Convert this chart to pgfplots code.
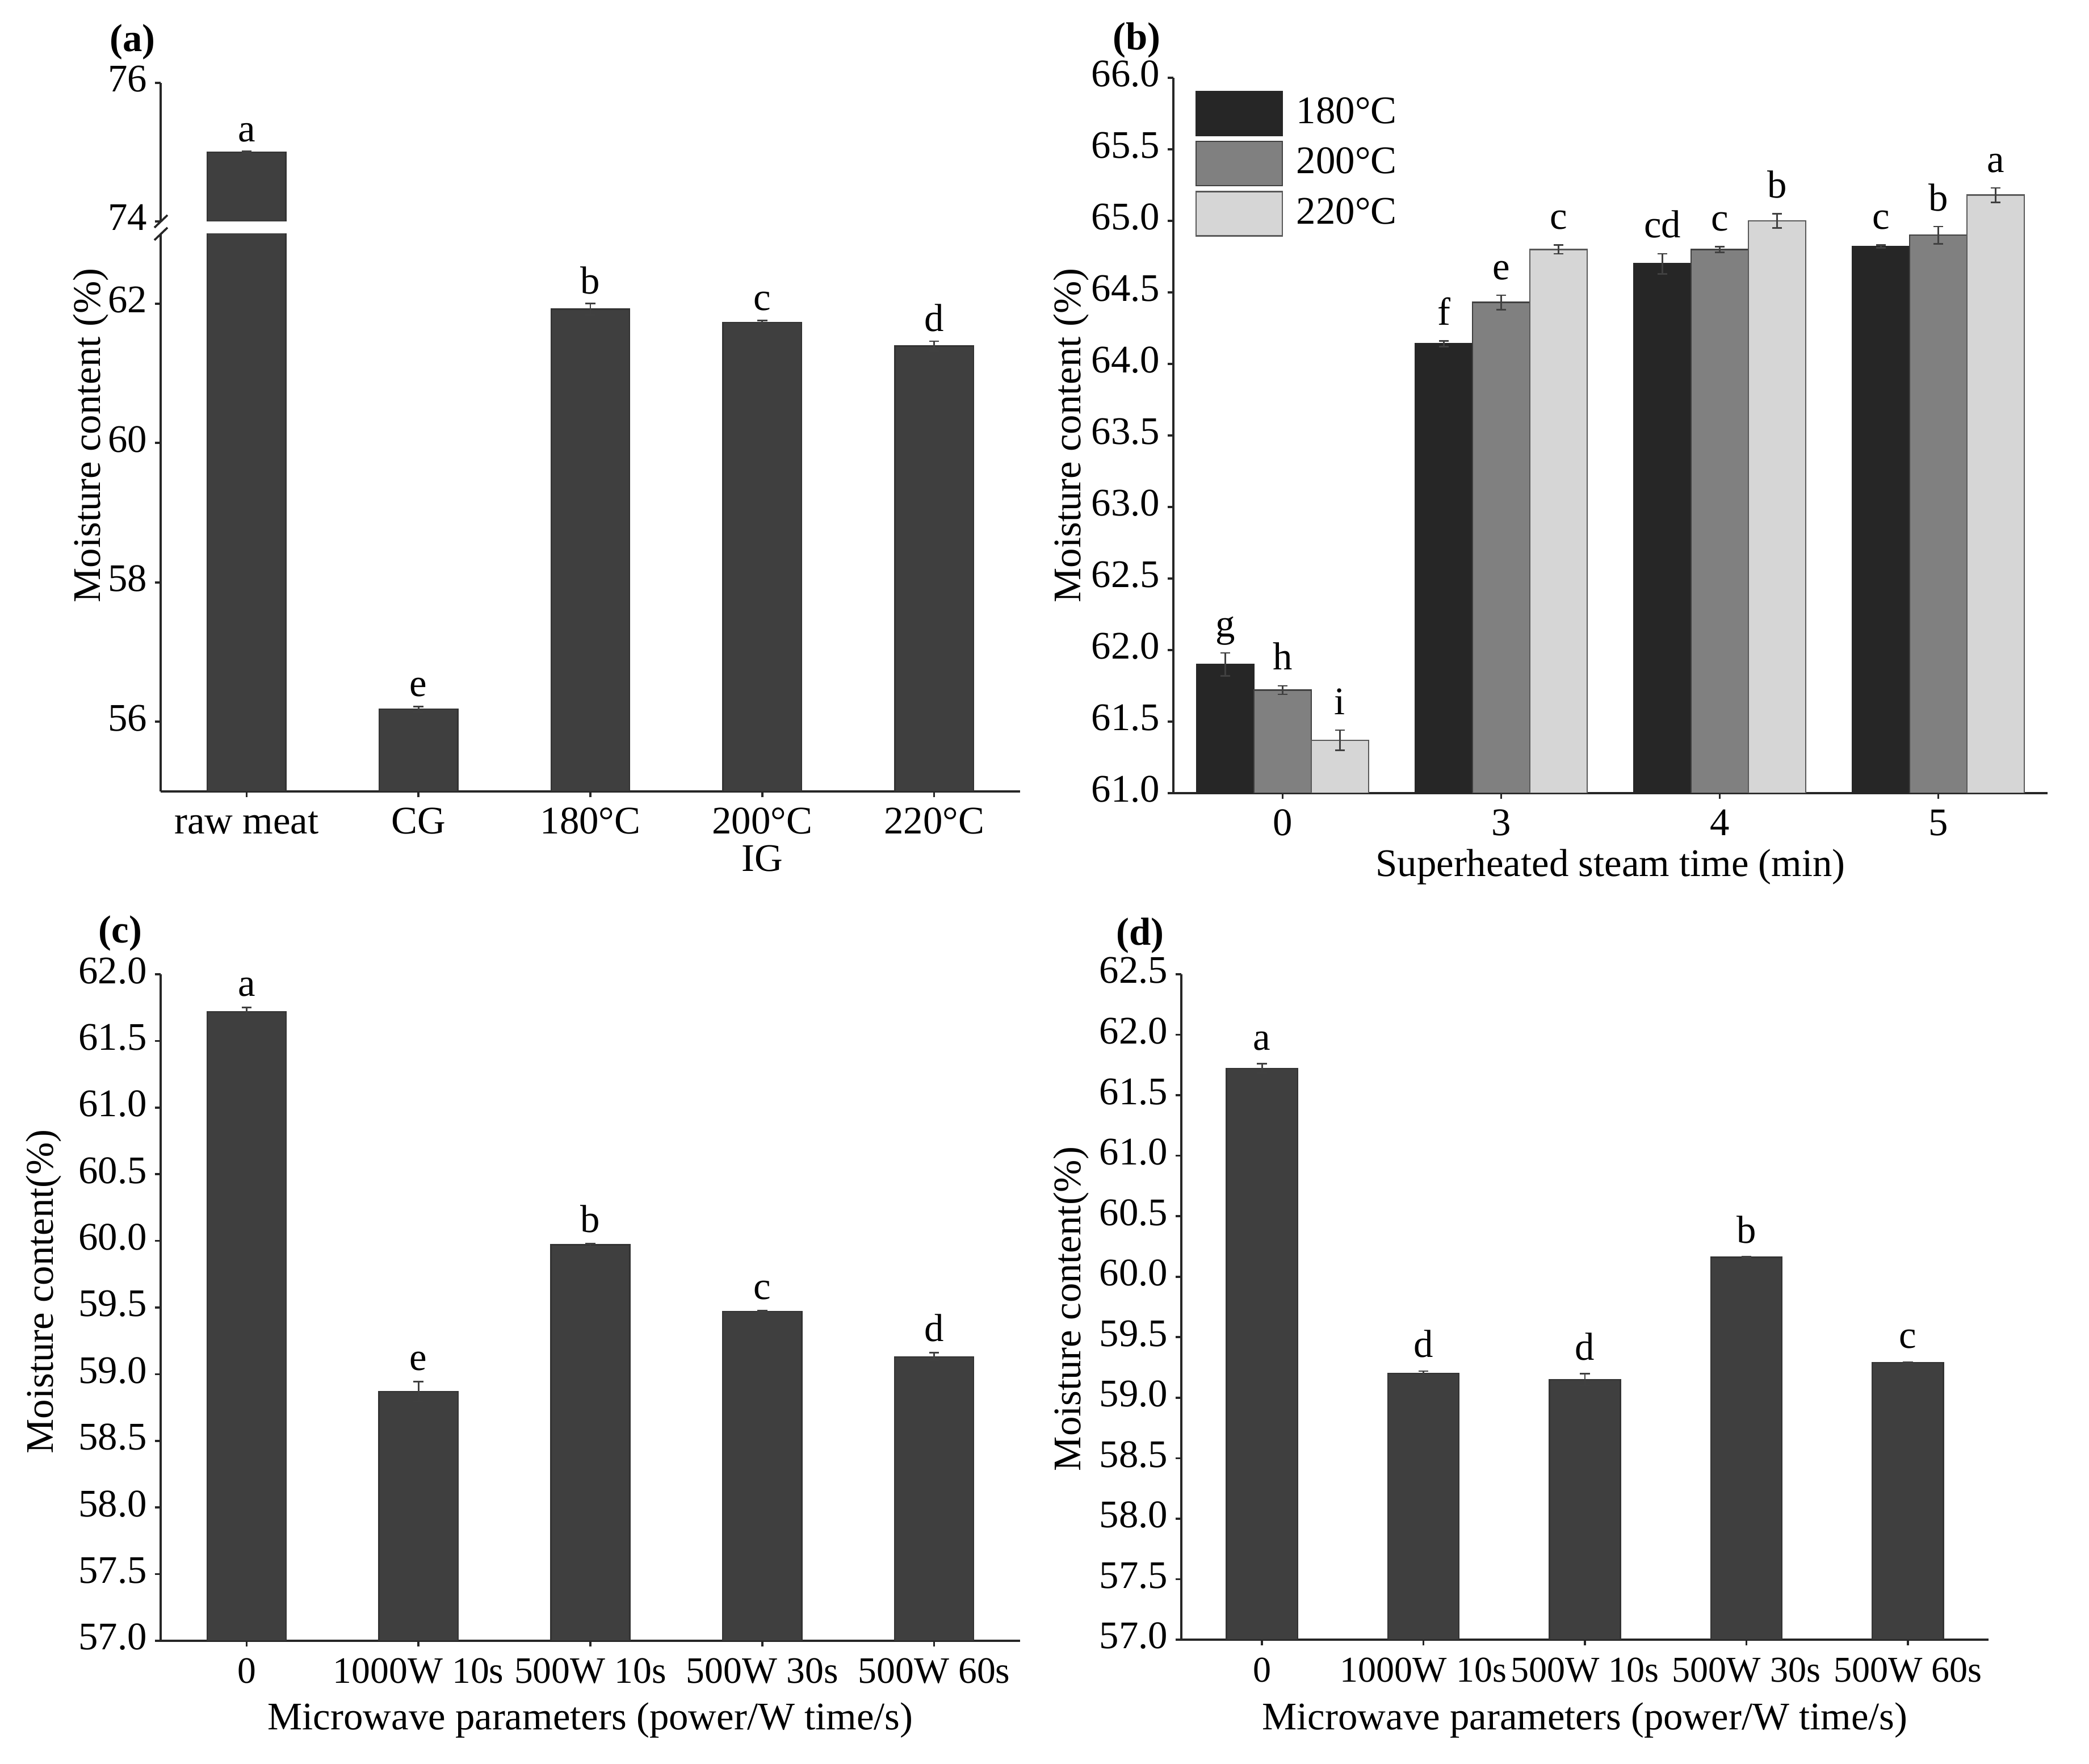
\documentclass[border=0pt]{standalone}
\usepackage{fontspec}
\setmainfont{Liberation Serif}
\usepackage{pgfplots}
\pgfplotsset{compat=1.18}

\definecolor{bardark}{HTML}{3F3F3F}
\definecolor{cA}{HTML}{262626}
\definecolor{cB}{HTML}{808080}
\definecolor{cC}{HTML}{D6D6D6}

\pgfplotsset{
  panel/.style={
    scale only axis, anchor=south west,
    axis x line*=bottom, axis y line*=left,
    x axis line style={-}, y axis line style={-},
    axis line style={black!85, line width=0.45pt},
    tick align=outside, major tick length=1.3pt,
    tick style={black!85, line width=0.45pt},
    /pgf/number format/assume math mode=true,
    enlargelimits=false, ybar,
    xtick={0,...,4}, xmin=-0.5, xmax=4.5,
    yticklabel style={inner xsep=1.5pt},
    typeset ticklabels with strut,
    xticklabel style={yshift=2.1pt},
  },
  onedec/.style={yticklabel style={/pgf/number format/.cd, fixed, fixed zerofill, precision=1}},
  errs/.style={error bars/.cd, y dir=both, y explicit,
    error bar style={line width=0.35pt, black!75},
    error mark options={rotate=90, line width=0.35pt, black!75, mark size=1.1pt}},
  letters/.style={forget plot, draw=none, fill=none,
    nodes near coords, point meta=explicit symbolic,
    every node near coord/.append style={anchor=base, yshift=#1, inner sep=0pt, text=black}},
  letters/.default=3pt,
}

\begin{document}
\fontsize{8.6}{10}\selectfont
\begin{tikzpicture}
\useasboundingbox (0,0) rectangle (460pt,388.375pt);

% ---------- (a) lower part
\begin{axis}[panel, at={(35.375pt,214.125pt)}, width=189.25pt, height=122.75pt,
  ymin=55, ymax=63, ytick={56,58,60,62},
  xticklabels={raw meat,CG,180°C,200°C,220°C},
  xlabel={IG}, xlabel style={at={(axis description cs:0.7,0)}, anchor=center, yshift=-14.75pt},
  ylabel={Moisture content (\%)}, ylabel style={at={(axis description cs:-0.0812,0.6385)}, anchor=center},
  bar width=0.457]
\addplot[fill=bardark, draw=black!80, line width=0.3pt, bar shift=0, errs]
  coordinates {(0,75.0)+-(0,0.01) (1,56.18)+-(0,0.04) (2,61.92)+-(0,0.08) (3,61.73)+-(0,0.03) (4,61.39)+-(0,0.07)};
\addplot[letters=2.2pt, bar shift=0]
  coordinates {(1,56.22)[e] (2,62.0)[b] (3,61.76)[c] (4,61.46)[d]};
\end{axis}
% ---------- (a) upper part
\begin{axis}[panel, at={(35.375pt,339.625pt)}, width=189.25pt, height=30.5pt,
  axis x line=none, ymin=74, ymax=76, ytick={74,76}, bar width=0.457]
\addplot[fill=bardark, draw=black!80, line width=0.3pt, bar shift=0, errs]
  coordinates {(0,75.0)+-(0,0.01)};
\addplot[letters=2.2pt, bar shift=0] coordinates {(0,75.01)[a]};
\end{axis}
\draw[black!85, line width=0.45pt] (34pt,338.25pt) -- (36.875pt,341pt);
\draw[black!85, line width=0.45pt] (34pt,335.5pt) -- (36.875pt,338.25pt);

% ---------- (b)
\begin{axis}[panel, onedec, at={(258.375pt,213.75pt)}, width=192.5pt, height=157.5pt,
  xmin=-0.5, xmax=3.5, xtick={0,1,2,3}, xticklabels={0,3,4,5},
  ymin=61, ymax=66, ytick={61,61.5,...,66},
  bar width=0.262,
  xlabel={Superheated steam time (min)}, xlabel style={at={(axis description cs:0.5,0)}, anchor=center, yshift=-16.3pt},
  ylabel={Moisture content (\%)}, ylabel style={at={(axis description cs:-0.117,0.5)}, anchor=center},
  legend style={at={(0.024,0.9833)}, anchor=north west, draw=none, fill=none,
    inner sep=0pt, row sep=1pt, column sep=3pt, nodes={inner sep=0pt}},
  legend image code/.code={\draw[#1] (0pt,-4.875pt) rectangle (19pt,4.875pt);},
  legend cell align=left]
\addplot[fill=cA, draw=black!85, line width=0.3pt, bar shift=-0.262, errs]
  coordinates {(0,61.90)+-(0,0.08) (1,64.14)+-(0,0.02) (2,64.70)+-(0,0.07) (3,64.82)+-(0,0.01)};
\addplot[fill=cB, draw=black!75, line width=0.3pt, bar shift=0, errs]
  coordinates {(0,61.72)+-(0,0.03) (1,64.43)+-(0,0.05) (2,64.80)+-(0,0.02) (3,64.90)+-(0,0.06)};
\addplot[fill=cC, draw=black!65, line width=0.3pt, bar shift=0.262, errs]
  coordinates {(0,61.37)+-(0,0.07) (1,64.80)+-(0,0.03) (2,65.00)+-(0,0.05) (3,65.18)+-(0,0.05)};
\addplot[letters=3.5pt, bar shift=-0.262]
  coordinates {(0,61.98)[g] (1,64.16)[f] (2,64.77)[cd] (3,64.83)[c]};
\addplot[letters=3.5pt, bar shift=0]
  coordinates {(0,61.75)[h] (1,64.48)[e] (2,64.82)[c] (3,64.96)[b]};
\addplot[letters=3.5pt, bar shift=0.262]
  coordinates {(0,61.44)[i] (1,64.83)[c] (2,65.05)[b] (3,65.23)[a]};
\legend{180°C,200°C,220°C}
\end{axis}

% ---------- (c)
\begin{axis}[panel, onedec, at={(35.375pt,27.125pt)}, width=189.25pt, height=146.75pt,
  ymin=57, ymax=62, ytick={57,57.5,...,62},
  xticklabels={0,1000W 10s,500W 10s,500W 30s,500W 60s},
  xticklabel style={font=\fontsize{8.2}{10}\selectfont},
  bar width=0.46,
  xlabel={Microwave parameters (power/W time/s)}, xlabel style={at={(axis description cs:0.5,0)}, anchor=center, yshift=-17.5pt},
  ylabel={Moisture content(\%)}, ylabel style={at={(axis description cs:-0.136,0.524)}, anchor=center}]
\addplot[fill=bardark, draw=black!80, line width=0.3pt, bar shift=0, errs]
  coordinates {(0,61.72)+-(0,0.03) (1,58.87)+-(0,0.075) (2,59.97)+-(0,0.01) (3,59.47)+-(0,0.005) (4,59.13)+-(0,0.03)};
\addplot[letters=2.5pt, bar shift=0]
  coordinates {(0,61.75)[a] (1,58.945)[e] (2,59.98)[b] (3,59.475)[c] (4,59.16)[d]};
\end{axis}

% ---------- (d)
\begin{axis}[panel, onedec, at={(260.125pt,27.375pt)}, width=177.75pt, height=146.5pt,
  ymin=57, ymax=62.5, ytick={57,57.5,...,62.5},
  xticklabels={0,1000W 10s,500W 10s,500W 30s,500W 60s},
  xticklabel style={font=\fontsize{8.0}{10}\selectfont},
  bar width=0.44,
  xlabel={Microwave parameters (power/W time/s)}, xlabel style={at={(axis description cs:0.5,0)}, anchor=center, yshift=-17.75pt},
  ylabel={Moisture content(\%)}, ylabel style={at={(axis description cs:-0.1364,0.497)}, anchor=center}]
\addplot[fill=bardark, draw=black!80, line width=0.3pt, bar shift=0, errs]
  coordinates {(0,61.72)+-(0,0.04) (1,59.20)+-(0,0.02) (2,59.15)+-(0,0.05) (3,60.16)+-(0,0.005) (4,59.29)+-(0,0.005)};
\addplot[letters=3pt, bar shift=0]
  coordinates {(0,61.76)[a] (1,59.22)[d] (2,59.20)[d] (3,60.165)[b] (4,59.295)[c]};
\end{axis}

\node[anchor=base west, inner sep=0pt, font=\bfseries] at (24pt,377.1pt) {(a)};
\node[anchor=base west, inner sep=0pt, font=\bfseries] at (244.9pt,377.4pt) {(b)};
\node[anchor=base west, inner sep=0pt, font=\bfseries] at (21.5pt,180.75pt) {(c)};
\node[anchor=base west, inner sep=0pt, font=\bfseries] at (245.6pt,180.25pt) {(d)};
\end{tikzpicture}
\end{document}
